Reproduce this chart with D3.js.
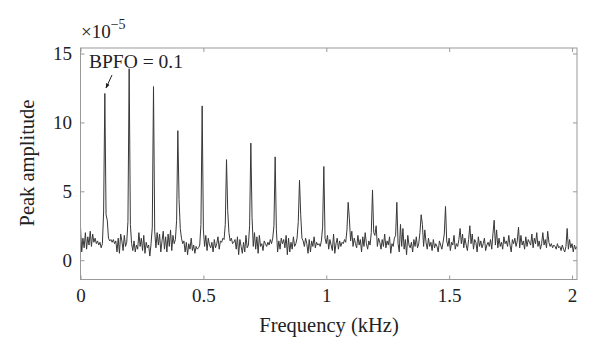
<!DOCTYPE html>
<html><head><meta charset="utf-8">
<script src="https://cdn.jsdelivr.net/npm/d3@7"></script>
<style>body{margin:0;background:#fff;}svg{display:block;}</style>
</head><body>
<svg id="chart" width="600" height="358"></svg>
<script>
// Frequency resolution (kHz) of the spectrum
const freqStep = 0.00495;
// Peak amplitude (x1e-5), one value per frequency bin
const amplitude = [
 2.4,0.6,1.6,0.9,2.0,0.8,1.7,1.1,2.1,1.0,1.9,1.3,1.6,1.2,1.4,1.1,1.3,0.9,1.2,3.5,
 12.1,3.3,2.9,1.6,1.4,1.5,1.3,1.5,1.2,1.4,0.6,1.6,0.5,1.9,1.4,0.7,1.8,1.0,1.3,2.8,
 13.9,2.6,1.2,0.7,1.4,0.6,1.1,0.8,2.0,1.0,1.6,0.7,1.8,0.5,1.3,0.9,1.1,0.3,1.2,2.4,
 12.6,2.1,0.9,2.0,1.1,1.9,0.6,1.4,2.1,0.8,1.7,0.6,1.9,1.0,2.2,0.7,1.8,1.2,1.5,2.9,
 9.4,4.4,2.3,1.6,1.2,1.4,0.6,1.3,0.4,1.2,0.8,1.6,0.7,1.1,0.5,1.0,0.8,0.9,1.1,2.6,
 11.2,2.2,1.0,1.8,0.7,1.6,1.1,0.9,1.3,0.6,1.5,0.9,1.2,1.7,0.8,1.4,1.3,1.6,1.5,2.6,
 7.3,3.6,2.0,1.4,1.6,1.2,1.3,1.5,0.8,1.7,0.4,1.5,1.0,0.5,1.3,0.6,1.8,0.9,1.1,2.5,
 8.5,3.1,1.0,2.0,0.8,1.7,0.5,1.8,1.0,1.2,0.7,1.4,1.2,1.0,1.3,1.1,1.5,1.2,1.6,2.5,
 7.5,2.2,0.6,1.4,0.8,1.6,1.2,1.5,0.9,1.8,0.4,1.6,0.6,1.3,0.8,1.7,1.0,1.2,1.6,2.8,
 5.8,3.3,1.6,1.4,1.0,1.6,1.2,0.5,1.5,0.6,1.4,1.0,1.7,0.9,1.3,1.1,1.2,1.0,1.4,2.4,
 6.8,1.6,1.2,1.8,0.8,1.5,1.1,0.7,1.9,0.5,1.2,1.6,0.8,1.4,1.0,1.3,1.2,1.5,1.3,2.2,
 4.2,3.0,1.4,2.1,1.0,1.6,1.2,0.9,1.8,1.1,1.5,0.6,1.7,1.0,2.0,1.2,0.8,1.4,1.1,2.0,
 5.1,2.0,1.8,2.5,1.0,1.6,1.3,0.8,1.5,1.0,1.9,0.9,1.4,1.1,1.7,0.5,1.2,1.0,1.6,1.8,
 4.2,1.2,0.6,2.6,1.0,2.3,0.8,1.5,0.4,1.8,1.1,0.9,1.3,0.6,1.5,1.0,1.7,0.9,1.2,2.0,
 3.3,2.6,1.0,2.2,1.3,0.8,1.6,1.0,1.3,0.7,1.5,0.9,1.2,1.0,0.6,1.4,1.1,0.8,1.3,1.9,
 3.9,1.4,1.0,1.6,0.7,1.3,1.1,1.8,0.8,1.2,1.0,1.5,2.3,1.2,1.9,0.9,1.6,1.1,0.7,1.5,
 2.5,1.2,1.9,0.8,1.5,1.3,0.6,1.7,1.0,1.4,0.9,1.2,1.6,0.7,1.1,1.3,1.0,1.5,0.8,1.9,
 2.9,1.1,2.2,0.9,1.6,1.0,1.3,0.8,1.7,1.2,1.4,1.0,1.8,1.1,0.6,1.5,1.2,1.6,1.0,1.4,
 2.4,0.9,1.8,1.1,1.4,0.8,1.7,1.0,1.5,1.3,1.1,1.9,0.9,1.6,1.2,2.0,1.0,1.4,0.8,1.2,
 2.0,1.1,1.5,0.9,2.1,1.3,1.0,1.2,0.9,1.1,1.0,0.8,1.2,0.9,1.0,0.7,1.1,0.8,0.6,1.0,
 2.3,0.8,1.5,0.9,1.2,0.6,1.1,0.8,1.0
];
const xTicks = [0, 0.5, 1, 1.5, 2];
const xTickLabels = ["0", "0.5", "1", "1.5", "2"];
const yTicks = [0, 5, 10, 15];
const yTickLabels = ["0", "5", "10", "15"];
const xDomain = [0, 2.02];
const yDomain = [-1.4, 15.4];

const svg = d3.select("#chart");
const L = 80.5, R = 577, T = 48, B = 279.5;
const font = "'Liberation Serif', 'DejaVu Serif', serif";
const x = d3.scaleLinear().domain(xDomain).range([L, R]);
const y = d3.scaleLinear().domain(yDomain).range([B, T]);

svg.append("clipPath").attr("id","clip").append("rect")
  .attr("x", L).attr("y", T).attr("width", R-L).attr("height", B-T);

const data = amplitude.map((v,i) => ({f: i*freqStep, v}));
svg.append("path").datum(data)
  .attr("clip-path","url(#clip)")
  .attr("fill","none").attr("stroke","#383838").attr("stroke-width",1)
  .attr("stroke-linejoin","round")
  .attr("d", d3.line().x(d => x(d.f)).y(d => y(d.v)));

const axisColor = "#999";
function styleAxis(g, showText){
  g.select(".domain").remove();
  g.selectAll(".tick line").attr("stroke", axisColor);
  g.selectAll(".tick text").attr("fill","#222")
    .style("font-family", font).style("font-size","19px");
  if(!showText) g.selectAll(".tick text").remove();
}
svg.append("g").attr("transform",`translate(0,${B})`)
  .call(d3.axisBottom(x).tickValues(xTicks).tickFormat((d,i)=>xTickLabels[i]).tickSizeInner(-4).tickSizeOuter(0).tickPadding(9))
  .call(g => styleAxis(g, true));
svg.append("g").attr("transform",`translate(0,${T})`)
  .call(d3.axisTop(x).tickValues(xTicks).tickSizeInner(-4).tickSizeOuter(0))
  .call(g => styleAxis(g, false));
svg.append("g").attr("transform",`translate(${L},0)`)
  .call(d3.axisLeft(y).tickValues(yTicks).tickFormat((d,i)=>yTickLabels[i]).tickSizeInner(-4).tickSizeOuter(0).tickPadding(8.5))
  .call(g => styleAxis(g, true));
svg.append("g").attr("transform",`translate(${R},0)`)
  .call(d3.axisRight(y).tickValues(yTicks).tickSizeInner(-4).tickSizeOuter(0))
  .call(g => styleAxis(g, false));

svg.append("rect").attr("x",L).attr("y",T).attr("width",R-L).attr("height",B-T)
  .attr("fill","none").attr("stroke",axisColor).attr("stroke-width",1);

// exponent label
const ex = svg.append("text").attr("x", 81).attr("y", 38)
  .attr("font-family", font).attr("font-size", 19).attr("fill","#222");
ex.append("tspan").text("×10");
ex.append("tspan").attr("dy",-9).attr("font-size", 14).text("−5");

// axis titles
svg.append("text").attr("x", 329).attr("y", 332).attr("text-anchor","middle")
  .style("font-family", font).style("font-size","20.5px").attr("fill","#222")
  .text("Frequency (kHz)");
svg.append("text").attr("transform",`translate(34,163) rotate(-90)`)
  .attr("text-anchor","middle")
  .style("font-family", font).style("font-size","20.5px").attr("fill","#222")
  .text("Peak amplitude");

// annotation
svg.append("text").attr("x", 89).attr("y", 68)
  .style("font-family", font).style("font-size","19.5px").attr("fill","#222")
  .text("BPFO = 0.1");
svg.append("defs").append("marker").attr("id","arr").attr("viewBox","0 0 10 10")
  .attr("refX",9).attr("refY",5).attr("markerWidth",5).attr("markerHeight",5)
  .attr("orient","auto").append("path").attr("d","M0,1L10,5L0,9Z").attr("fill","#222");
svg.append("line").attr("x1",112).attr("y1",75).attr("x2",106).attr("y2",88)
  .attr("stroke","#222").attr("stroke-width",1).attr("marker-end","url(#arr)");
</script>
</body></html>
